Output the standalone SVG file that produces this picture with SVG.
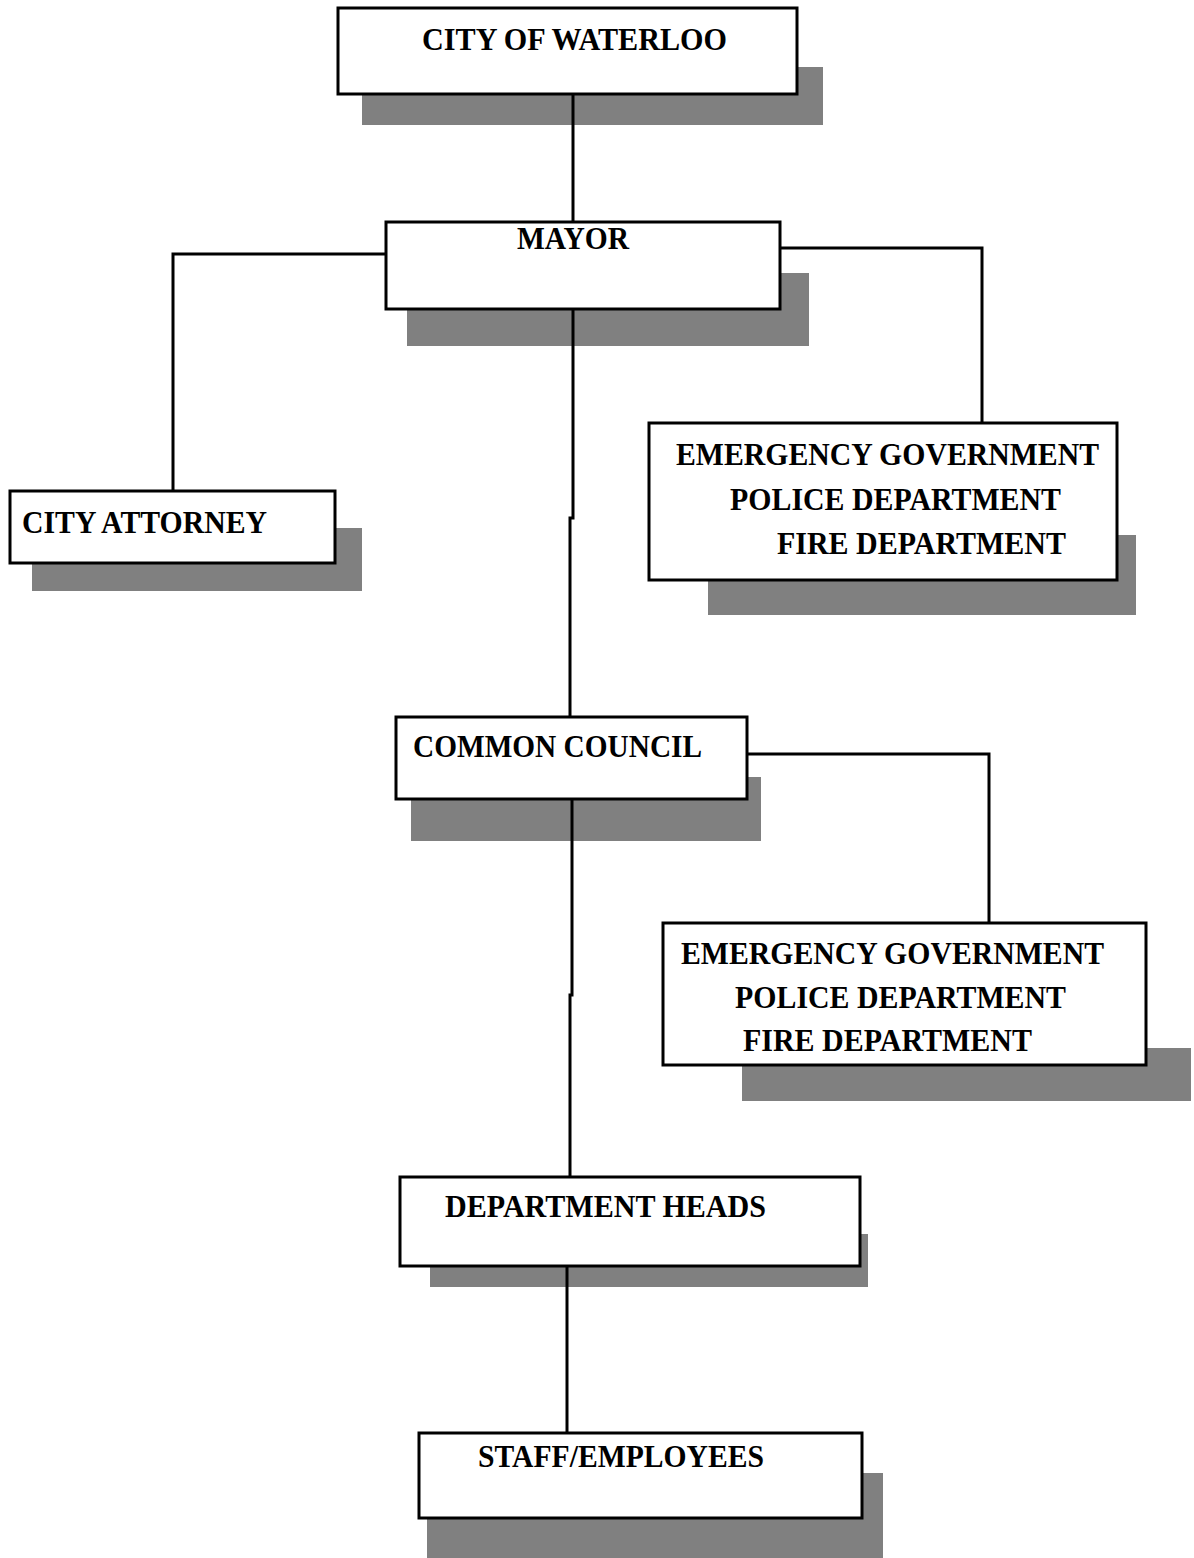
<svg xmlns="http://www.w3.org/2000/svg" width="1194" height="1558" viewBox="0 0 1194 1558">
<style>
.sh{fill:#808080}
.bx{fill:#fff;stroke:#000;stroke-width:3}
.t{font-weight:bold;font-size:32px;fill:#000}
.c{fill:none;stroke:#000;stroke-width:3;stroke-linejoin:miter}
</style>
<rect width="1194" height="1558" fill="#fff"/>
<g font-family="'Liberation Serif', 'DejaVu Serif', serif">
<g id="city">
<rect class="sh" x="362" y="67" width="461" height="58"/>
<rect class="bx" x="338" y="8" width="459" height="86"/>
<text class="t" x="422" y="50" textLength="305" lengthAdjust="spacingAndGlyphs">CITY OF WATERLOO</text>
</g>
<g id="mayor">
<rect class="sh" x="407" y="273" width="402" height="73"/>
<rect class="bx" x="386" y="222" width="394" height="87"/>
<text class="t" x="517" y="249" textLength="112" lengthAdjust="spacingAndGlyphs">MAYOR</text>
</g>
<g id="attorney">
<rect class="sh" x="32" y="528" width="330" height="63"/>
<rect class="bx" x="10" y="491" width="325" height="72"/>
<text class="t" x="22" y="533" textLength="245" lengthAdjust="spacingAndGlyphs">CITY ATTORNEY</text>
</g>
<g id="emergency1">
<rect class="sh" x="708" y="535" width="428" height="80"/>
<rect class="bx" x="649" y="423" width="468" height="157"/>
<text class="t" x="676" y="465" textLength="423" lengthAdjust="spacingAndGlyphs">EMERGENCY GOVERNMENT</text>
<text class="t" x="730" y="510" textLength="331" lengthAdjust="spacingAndGlyphs">POLICE DEPARTMENT</text>
<text class="t" x="777" y="554" textLength="289" lengthAdjust="spacingAndGlyphs">FIRE DEPARTMENT</text>
</g>
<g id="council">
<rect class="sh" x="411" y="777" width="350" height="64"/>
<rect class="bx" x="396" y="717" width="351" height="82"/>
<text class="t" x="413" y="757" textLength="289" lengthAdjust="spacingAndGlyphs">COMMON COUNCIL</text>
</g>
<g id="emergency2">
<rect class="sh" x="742" y="1048" width="449" height="53"/>
<rect class="bx" x="663" y="923" width="483" height="142"/>
<text class="t" x="681" y="964" textLength="423" lengthAdjust="spacingAndGlyphs">EMERGENCY GOVERNMENT</text>
<text class="t" x="735" y="1008" textLength="331" lengthAdjust="spacingAndGlyphs">POLICE DEPARTMENT</text>
<text class="t" x="743" y="1051" textLength="289" lengthAdjust="spacingAndGlyphs">FIRE DEPARTMENT</text>
</g>
<g id="heads">
<rect class="sh" x="430" y="1234" width="438" height="53"/>
<rect class="bx" x="400" y="1177" width="460" height="89"/>
<text class="t" x="445" y="1217" textLength="321" lengthAdjust="spacingAndGlyphs">DEPARTMENT HEADS</text>
</g>
<g id="staff">
<rect class="sh" x="427" y="1473" width="456" height="85"/>
<rect class="bx" x="419" y="1433" width="443" height="85"/>
<text class="t" x="478" y="1467" textLength="286" lengthAdjust="spacingAndGlyphs">STAFF/EMPLOYEES</text>
</g>
</g>
<g id="connectors">
<path class="c" d="M573 94V222"/>
<path class="c" d="M386 254H173V491"/>
<path class="c" d="M780 248H982V423"/>
<path class="c" d="M573 309V518H570V717"/>
<path class="c" d="M747 754H989V923"/>
<path class="c" d="M572 799V995H570V1177"/>
<path class="c" d="M567 1266V1433"/>
</g>
</svg>
